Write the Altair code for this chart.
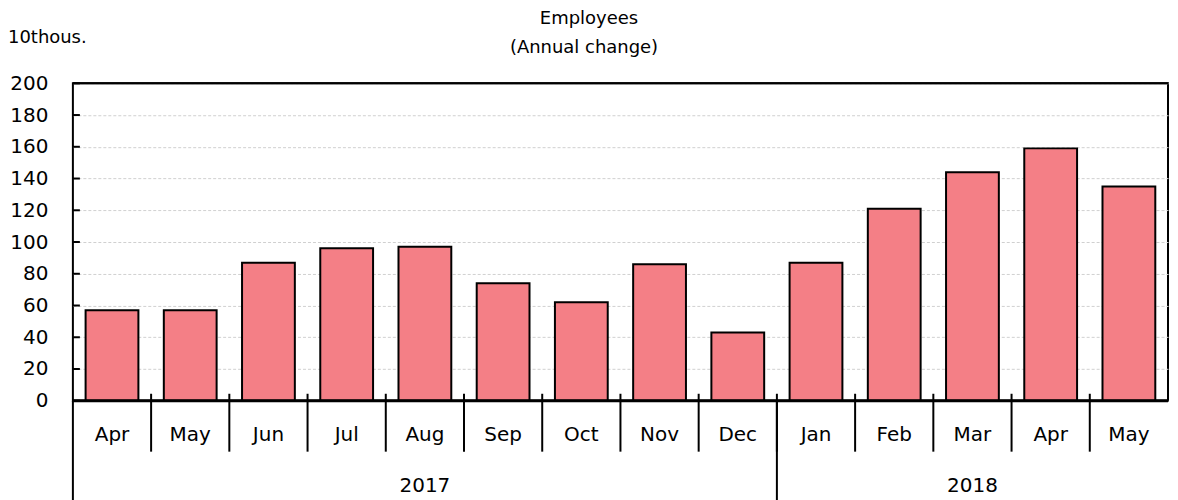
import altair as alt
import pandas as pd

months = ["Apr", "May", "Jun", "Jul", "Aug", "Sep", "Oct", "Nov", "Dec",
          "Jan", "Feb", "Mar", "Apr", "May"]
years = ["2017"] * 9 + ["2018"] * 5
values = [57, 57, 87, 96, 97, 74, 62, 86, 43, 87, 121, 144, 159, 135]
y_ticks = [0, 20, 40, 60, 80, 100, 120, 140, 160, 180, 200]

FONT = "DejaVu Sans"
PAD = 0.1625
W = 1097
H = 318

df = pd.DataFrame({
    "idx": list(range(len(months))),
    "month": months,
    "year": years,
    "value": values,
})
df["first_of_year"] = df["year"] != df["year"].shift(1)

base = alt.Chart(df)
xscale = alt.Scale(domain=[0, len(months)], nice=False, zero=False)
yscale = alt.Scale(domain=[0, 200], nice=False)
yaxis = alt.Axis(values=y_ticks, grid=True, gridColor="#d0d0d0",
                 gridDash=[3, 2], gridWidth=1, ticks=False,
                 domain=False, labelPadding=25, labelFontSize=20,
                 labelFont=FONT, labelColor="black", title=None,
                 labelOverlap=False)

bars = base.transform_calculate(
    x0=f"datum.idx + {PAD}", x1=f"datum.idx + 1 - {PAD}"
).mark_bar(fill="#F47F86", stroke="black", strokeWidth=2).encode(
    x=alt.X("x0:Q", scale=xscale, axis=None),
    x2="x1:Q",
    y=alt.Y("value:Q", scale=yscale, axis=yaxis),
    y2=alt.datum(0),
)

month_sep = base.transform_filter("datum.idx > 0").mark_rule(
    color="black", strokeWidth=2
).encode(x=alt.X("idx:Q", scale=xscale, axis=None),
         y=alt.value(H - 7), y2=alt.value(H + 51))

year_sep = base.transform_filter("datum.first_of_year").mark_rule(
    color="black", strokeWidth=2
).encode(x=alt.X("idx:Q", scale=xscale, axis=None),
         y=alt.value(H), y2=alt.value(H + 100))

baseline = base.transform_filter("datum.idx == 0").mark_rule(
    color="black", strokeWidth=3
).encode(x=alt.value(0), x2=alt.value(W), y=alt.value(H))

topline = base.transform_filter("datum.idx == 0").mark_rule(
    color="black", strokeWidth=2
).encode(x=alt.value(0), x2=alt.value(W), y=alt.value(0))

month_text = base.transform_calculate(mid="datum.idx + 0.5").mark_text(
    font=FONT, fontSize=20, color="black", baseline="middle"
).encode(x=alt.X("mid:Q", scale=xscale, axis=None),
         y=alt.value(H + 34), text="month:N")

year_text = base.transform_aggregate(
    lo="min(idx)", hi="max(idx)", groupby=["year"]
).transform_calculate(mid="(datum.lo + datum.hi + 1) / 2").mark_text(
    font=FONT, fontSize=20, color="black", baseline="middle"
).encode(x=alt.X("mid:Q", scale=xscale, axis=None),
         y=alt.value(H + 85), text="year:N")

tick_df = pd.DataFrame({"v": y_ticks})
y_tick_marks = alt.Chart(tick_df).mark_rule(color="black", strokeWidth=2).encode(
    y=alt.Y("v:Q", scale=yscale, axis=yaxis), x=alt.value(0), x2=alt.value(7)
)

title1 = alt.Chart(pd.DataFrame({"t": ["Employees"]})).mark_text(
    font=FONT, fontSize=18, color="black", baseline="middle", align="center"
).encode(text="t:N", x=alt.value(517), y=alt.value(-64))

title2 = alt.Chart(pd.DataFrame({"t": ["(Annual change)"]})).mark_text(
    font=FONT, fontSize=18, color="black", baseline="middle", align="center"
).encode(text="t:N", x=alt.value(512), y=alt.value(-35))

unit = alt.Chart(pd.DataFrame({"t": ["10thous."]})).mark_text(
    font=FONT, fontSize=18, color="black", baseline="middle", align="left"
).encode(text="t:N", x=alt.value(-65), y=alt.value(-45))

chart = alt.layer(
    bars, month_sep, year_sep, baseline, topline, month_text, year_text,
    y_tick_marks, title1, title2, unit
).properties(
    width=W, height=H, padding={"top": 2, "left": 0, "right": 0, "bottom": 0}
).configure_view(stroke="black", strokeWidth=2)

chart.save("out.html", embed_options={"renderer": "svg", "actions": False})
